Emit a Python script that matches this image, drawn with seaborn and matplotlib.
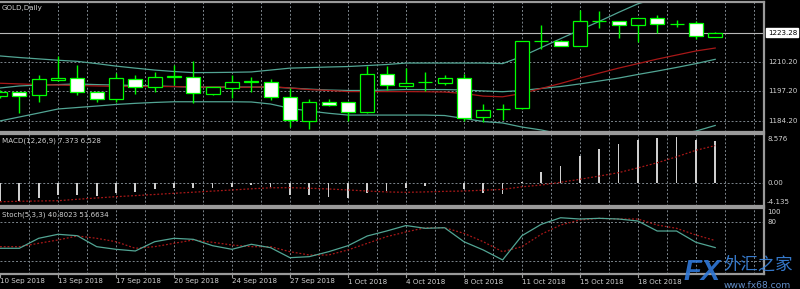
import matplotlib
matplotlib.use("Agg")
import matplotlib.pyplot as plt
import matplotlib.transforms as mtransforms
import numpy as np
import pandas as pd
import seaborn as sns

# ---------------- data ----------------
bars = list(range(38))
date_labels = ["10 Sep 2018", "13 Sep 2018", "17 Sep 2018", "20 Sep 2018", "24 Sep 2018",
               "27 Sep 2018", "1 Oct 2018", "4 Oct 2018", "8 Oct 2018", "11 Oct 2018",
               "15 Oct 2018", "18 Oct 2018"]
date_label_bars = [0, 3, 6, 9, 12, 15, 18, 21, 24, 27, 30, 33]

open_ = [1195.1, 1196.8, 1195.6, 1202.2, 1203.0, 1197.05, 1193.8, 1202.7, 1199.3, 1203.5,
         1203.7, 1196.0, 1198.55, 1201.3, 1201.5, 1194.5, 1184.1, 1192.35, 1192.35, 1188.05,
         1204.7, 1199.8, 1201.3, 1200.8, 1203.1, 1185.7, 1189.2, 1189.7, 1219.5, 1219.6,
         1217.4, 1228.4, 1228.4, 1226.6, 1229.55, 1227.0, 1227.3, 1221.4]
high = [1197.8, 1196.9, 1204.4, 1212.9, 1208.9, 1197.4, 1205.2, 1204.4, 1205.9, 1208.9,
        1210.8, 1199.1, 1204.4, 1203.7, 1202.5, 1198.7, 1193.7, 1193.7, 1192.5, 1208.4,
        1208.4, 1207.5, 1205.8, 1204.4, 1204.9, 1191.6, 1191.4, 1219.7, 1226.6, 1219.85,
        1233.2, 1232.65, 1228.6, 1229.7, 1231.0, 1228.8, 1228.5, 1223.5]
low = [1194.3, 1187.75, 1192.6, 1201.8, 1195.6, 1192.6, 1192.6, 1196.0, 1197.05, 1200.0,
       1191.9, 1195.8, 1194.1, 1197.05, 1193.4, 1181.4, 1180.5, 1190.7, 1184.2, 1187.6,
       1197.8, 1199.35, 1197.4, 1200.0, 1184.1, 1183.8, 1184.7, 1189.4, 1215.8, 1217.1,
       1217.3, 1225.35, 1220.7, 1219.2, 1222.9, 1225.6, 1220.25, 1221.3]
close = [1196.9, 1195.3, 1202.5, 1203.1, 1196.8, 1193.8, 1203.0, 1199.1, 1203.4, 1203.8,
         1196.3, 1199.0, 1201.5, 1201.8, 1194.7, 1184.3, 1192.6, 1191.0, 1188.05, 1204.9,
         1200.0, 1201.1, 1201.5, 1203.0, 1185.6, 1188.9, 1189.4, 1219.6, 1219.7, 1217.4,
         1228.4, 1228.5, 1226.6, 1229.55, 1227.0, 1227.2, 1221.7, 1223.28]

bb_upper = [1212.9, 1212.2, 1211.6, 1211.0, 1210.5, 1209.5, 1208.4, 1207.5, 1206.65, 1206.0,
            1205.5, 1205.55, 1205.65, 1205.8, 1206.65, 1207.5, 1207.75, 1208.0, 1208.2, 1208.65,
            1209.1, 1209.75, 1209.75, 1209.75, 1209.75, 1209.75, 1209.5, 1212.7, 1216.6, 1220.55,
            1224.4, 1228.2, 1232.2, 1236.0, 1238.5, 1240.0, 1240.8, 1241.2]
bb_middle = [1198.7, 1199.6, 1200.0, 1200.2, 1200.5, 1200.2, 1200.0, 1199.8, 1199.6, 1199.35,
             1199.1, 1199.1, 1199.1, 1199.1, 1199.1, 1198.7, 1198.2, 1197.8, 1197.6, 1197.6,
             1197.8, 1198.0, 1198.0, 1198.0, 1197.8, 1197.4, 1197.05, 1197.6, 1198.5, 1199.35,
             1200.5, 1201.8, 1203.1, 1204.7, 1206.2, 1207.8, 1209.5, 1211.4]
bb_lower = [1184.1, 1185.85, 1187.6, 1189.4, 1190.05, 1190.7, 1191.4, 1191.9, 1192.3, 1192.6,
            1192.6, 1192.6, 1192.6, 1192.5, 1191.6, 1189.7, 1188.5, 1187.5, 1186.7, 1186.7,
            1186.7, 1186.7, 1186.7, 1186.5, 1185.2, 1183.85, 1183.2, 1181.4, 1180.1, 1178.3,
            1176.5, 1175.65, 1175.2, 1175.2, 1176.1, 1178.3, 1179.6, 1182.1]
ma_red = [1200.8, 1200.5, 1200.2, 1200.0, 1199.8, 1199.6, 1199.4, 1199.35, 1199.35, 1199.35,
          1199.1, 1199.1, 1199.1, 1199.0, 1199.35, 1198.7, 1198.0, 1197.6, 1197.1, 1197.1,
          1197.1, 1197.1, 1197.05, 1196.9, 1196.25, 1195.1, 1194.8, 1196.25, 1198.5, 1200.7,
          1203.1, 1205.3, 1207.5, 1209.5, 1211.5, 1213.3, 1215.1, 1216.4]

macd_main = [-3.3, -3.2, -2.77, -2.19, -2.19, -2.37, -1.89, -1.61, -1.13, -1.0,
             -1.0, -1.0, -0.72, -0.42, -0.83, -2.19, -2.19, -2.49, -2.77, -1.89,
             -1.43, -1.0, -0.6, -0.1, -1.18, -1.78, -2.01, 0.15, 1.81, 2.93,
             4.75, 5.93, 6.76, 7.52, 7.82, 8.0, 7.52, 7.373]
macd_signal = [-3.38, -3.3, -3.25, -3.2, -2.95, -2.72, -2.49, -2.3, -2.1, -1.89,
               -1.7, -1.5, -1.31, -1.1, -0.92, -0.9, -1.0, -1.13, -1.3, -1.49,
               -1.65, -1.72, -1.65, -1.55, -1.49, -1.35, -1.2, -0.75, -0.43, 0.05,
               0.58, 1.15, 1.75, 2.6, 3.5, 4.55, 5.7, 6.528]

stoch_k = [39.7, 39.7, 55.2, 61.4, 59.2, 42.2, 38.1, 35.5, 49.9, 55.2,
           53.6, 43.7, 38.1, 45.9, 40.6, 25.1, 26.7, 34.4, 43.7, 58.8,
           66.5, 75.0, 70.7, 71.6, 49.9, 37.1, 21.6, 59.2, 76.9, 87.1,
           85.1, 86.2, 85.1, 82.0, 66.5, 66.5, 49.0, 40.8]
stoch_d = [42.2, 42.2, 47.4, 52.6, 58.8, 55.2, 49.9, 39.7, 42.2, 47.4,
           52.6, 49.0, 44.8, 42.2, 42.2, 34.4, 29.3, 29.3, 37.1, 47.4,
           57.7, 65.0, 71.6, 71.6, 62.9, 49.9, 34.4, 42.2, 61.4, 75.8,
           83.6, 86.2, 85.1, 85.1, 75.8, 70.7, 60.3, 51.7]

price_labels = [1210.20, 1197.20, 1184.20]
price_grid = [1184.2, 1197.2, 1210.2, 1223.2]
bid_price = 1223.28

# ---------------- style ----------------
BG = "black"
GRID = "#7c858c"
TXT = "#d2d2d2"
LIME = "#00ff00"
TEAL = "#52a594"
RED = "#a81818"
BORDER = "#9a9a9a"
FS = 5.1

df = pd.DataFrame({"bar": bars, "open": open_, "high": high, "low": low, "close": close,
                   "up": bb_upper, "mid": bb_middle, "lo": bb_lower, "ma": ma_red,
                   "macd": macd_main, "sig": macd_signal, "k": stoch_k, "d": stoch_d})

W, H = 800, 289
fig = plt.figure(figsize=(W / 100, H / 100), dpi=100, facecolor=BG)
plt.rcParams['font.family'] = ['DejaVu Sans']

XR = 764.0
BARPX = 19.33


def axes_px(top, bottom):
    ax = fig.add_axes([0, 1 - bottom / H, XR / W, (bottom - top) / H])
    ax.set_facecolor(BG)
    for s in ["top", "bottom", "right"]:
        ax.spines[s].set_color(BORDER)
        ax.spines[s].set_linewidth(1.6)
    ax.spines["left"].set_visible(False)
    for gx in np.arange(1.5, XR / BARPX, 1.5):
        ax.axvline(gx, color=GRID, lw=0.7, ls=(0, (2, 2)), zorder=0)
    return ax


ax_p = axes_px(2, 132)
ax_m = axes_px(134, 206)
ax_s = axes_px(208, 274)

# ---------------- price panel ----------------
ax_p.set_ylim(1179.2, 1236.8)
for g in price_grid:
    ax_p.axhline(g, color=GRID, lw=0.7, ls=(0, (2, 2)), zorder=0)
ax_p.axhline(bid_price, color="#b8b8b8", lw=0.8, zorder=1)

for col, colr in [("up", TEAL), ("lo", TEAL), ("mid", TEAL), ("ma", RED)]:
    sns.lineplot(data=df, x="bar", y=col, ax=ax_p, color=colr, lw=0.9,
                 estimator=None, sort=False, zorder=2)

x = df["bar"].to_numpy()
o = df["open"].to_numpy()
c = df["close"].to_numpy()
bull = c >= o
ax_p.vlines(x, df["low"], df["high"], color=LIME, lw=1.0, zorder=3)
ax_p.bar(x, c - o, bottom=o, width=0.72,
         color=np.where(bull, "black", "white"), edgecolor=LIME, linewidth=0.9, zorder=4)

tr_p = mtransforms.blended_transform_factory(ax_p.transAxes, ax_p.transData)
for v in price_labels:
    ax_p.text(1.006, v, f"{v:.2f}", transform=tr_p, color=TXT, fontsize=FS,
              va="center", ha="left", clip_on=False)
ax_p.text(1.005, bid_price, f"{bid_price:.2f}", transform=tr_p, color="black", fontsize=FS,
          va="center", ha="left", clip_on=False,
          bbox=dict(boxstyle="square,pad=0.2", facecolor="white", edgecolor="white"))

# ---------------- MACD panel ----------------
ax_m.set_ylim(-4.135, 8.576)
ax_m.axhline(0, color=GRID, lw=0.7, ls=(0, (2, 2)), zorder=0)
ax_m.bar(x, df["macd"], width=0.09, color="#cfcfcf", zorder=2)
sns.lineplot(data=df, x="bar", y="sig", ax=ax_m, color=RED, lw=0.9, ls=(0, (1.5, 1.5)),
             estimator=None, sort=False, zorder=3)

# ---------------- Stoch panel ----------------
ax_s.set_ylim(-0.2, 102.2)
for g in [20, 80]:
    ax_s.axhline(g, color=GRID, lw=0.7, ls=(0, (2, 2)), zorder=0)
sns.lineplot(data=df, x="bar", y="d", ax=ax_s, color=RED, lw=0.9, ls=(0, (1.5, 1.5)),
             estimator=None, sort=False, zorder=2)
sns.lineplot(data=df, x="bar", y="k", ax=ax_s, color=TEAL, lw=0.9,
             estimator=None, sort=False, zorder=3)

for ax in (ax_p, ax_m, ax_s):
    ax.set_xlabel("")
    ax.set_ylabel("")
    ax.set_xlim(0, XR / BARPX)
    ax.set_xticks([])
    ax.set_yticks([])

# ---------------- texts ----------------
def ftext(px, py, s, **kw):
    kw.setdefault("color", TXT)
    kw.setdefault("fontsize", FS)
    kw.setdefault("va", "center")
    kw.setdefault("ha", "left")
    return fig.text(px / W, 1 - py / H, s, **kw)


ftext(2, 8.3, "GOLD,Daily")
ftext(2, 140.7, "MACD(12,26,9) 7.373 6.528")
ftext(2, 214.3, "Stoch(5,3,3) 40.8023 51.6634")

ftext(767, 139.3, "8.576")
ftext(767, 182.7, "0.00")
ftext(767, 201.7, "-4.135")
ftext(767, 212.3, "100")
ftext(767, 222.3, "80")

for b, lab in zip(date_label_bars, date_labels):
    px = b * BARPX
    ftext(px + 0.5, 281.5, lab)
    fig.add_artist(plt.Line2D([px / W, px / W], [1 - 274 / H, 1 - 277 / H],
                              color=BORDER, lw=0.8))

# watermark
ftext(683, 272, "FX", color="#2f78d8", fontsize=21, fontweight="bold", fontstyle="italic",
      alpha=0.9, family=["Liberation Sans", "DejaVu Sans"])
ftext(723, 264.5, "外汇之家", color="#3b86e0", fontsize=12.5, alpha=0.9,
      family=["Noto Sans CJK SC", "DejaVu Sans"])
ftext(724, 285, "www.fx68.com", color="#6f9fe0", fontsize=6.6, alpha=0.9)

fig.savefig("out.png", dpi=100, facecolor=BG)
